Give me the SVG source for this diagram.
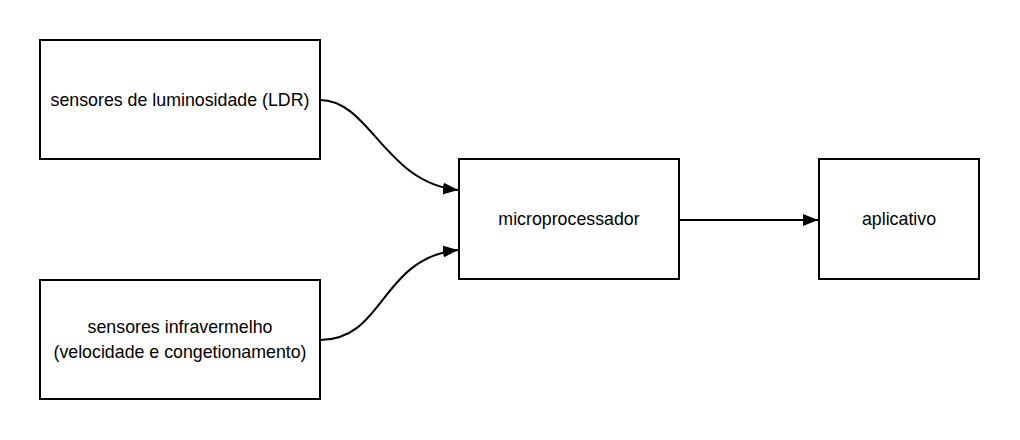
<svg xmlns="http://www.w3.org/2000/svg" width="1020" height="440" viewBox="0 0 1020 440">
<style>
.box{fill:#fff;stroke:#000;stroke-width:2}
.lbl{font-family:"Liberation Sans",Arial,sans-serif;font-size:17.8px;fill:#000;text-anchor:middle;dominant-baseline:central}
.edge{fill:none;stroke:#000;stroke-width:2}
</style>
<defs>
<marker id="arr" markerUnits="userSpaceOnUse" markerWidth="16" markerHeight="12" refX="15" refY="6" orient="auto">
<path d="M0,0 L15,6 L0,12 Z" fill="#000"/>
</marker>
</defs>
<rect width="1020" height="440" fill="#fff"/>
<g id="ldr"><rect class="box" x="40" y="40" width="280" height="119"/><text class="lbl" x="180" y="100">sensores de luminosidade (LDR)</text></g>
<g id="infra"><rect class="box" x="40" y="280" width="280" height="119"/><text class="lbl" x="180" y="327">sensores infravermelho</text><text class="lbl" x="180" y="352">(velocidade e congetionamento)</text></g>
<g id="micro"><rect class="box" x="459" y="159" width="220" height="120"/><text class="lbl" x="569" y="219">microprocessador</text></g>
<g id="app"><rect class="box" x="819" y="159" width="160" height="120"/><text class="lbl" x="899" y="219">aplicativo</text></g>
<g id="connectors">
<path class="edge" d="M320,100 C370,100 385,183 458,190" marker-end="url(#arr)"/>
<path class="edge" d="M320,340 C385,340 380,258 458,250" marker-end="url(#arr)"/>
<path class="edge" d="M680,220 L818,220" marker-end="url(#arr)"/>
</g>
</svg>
